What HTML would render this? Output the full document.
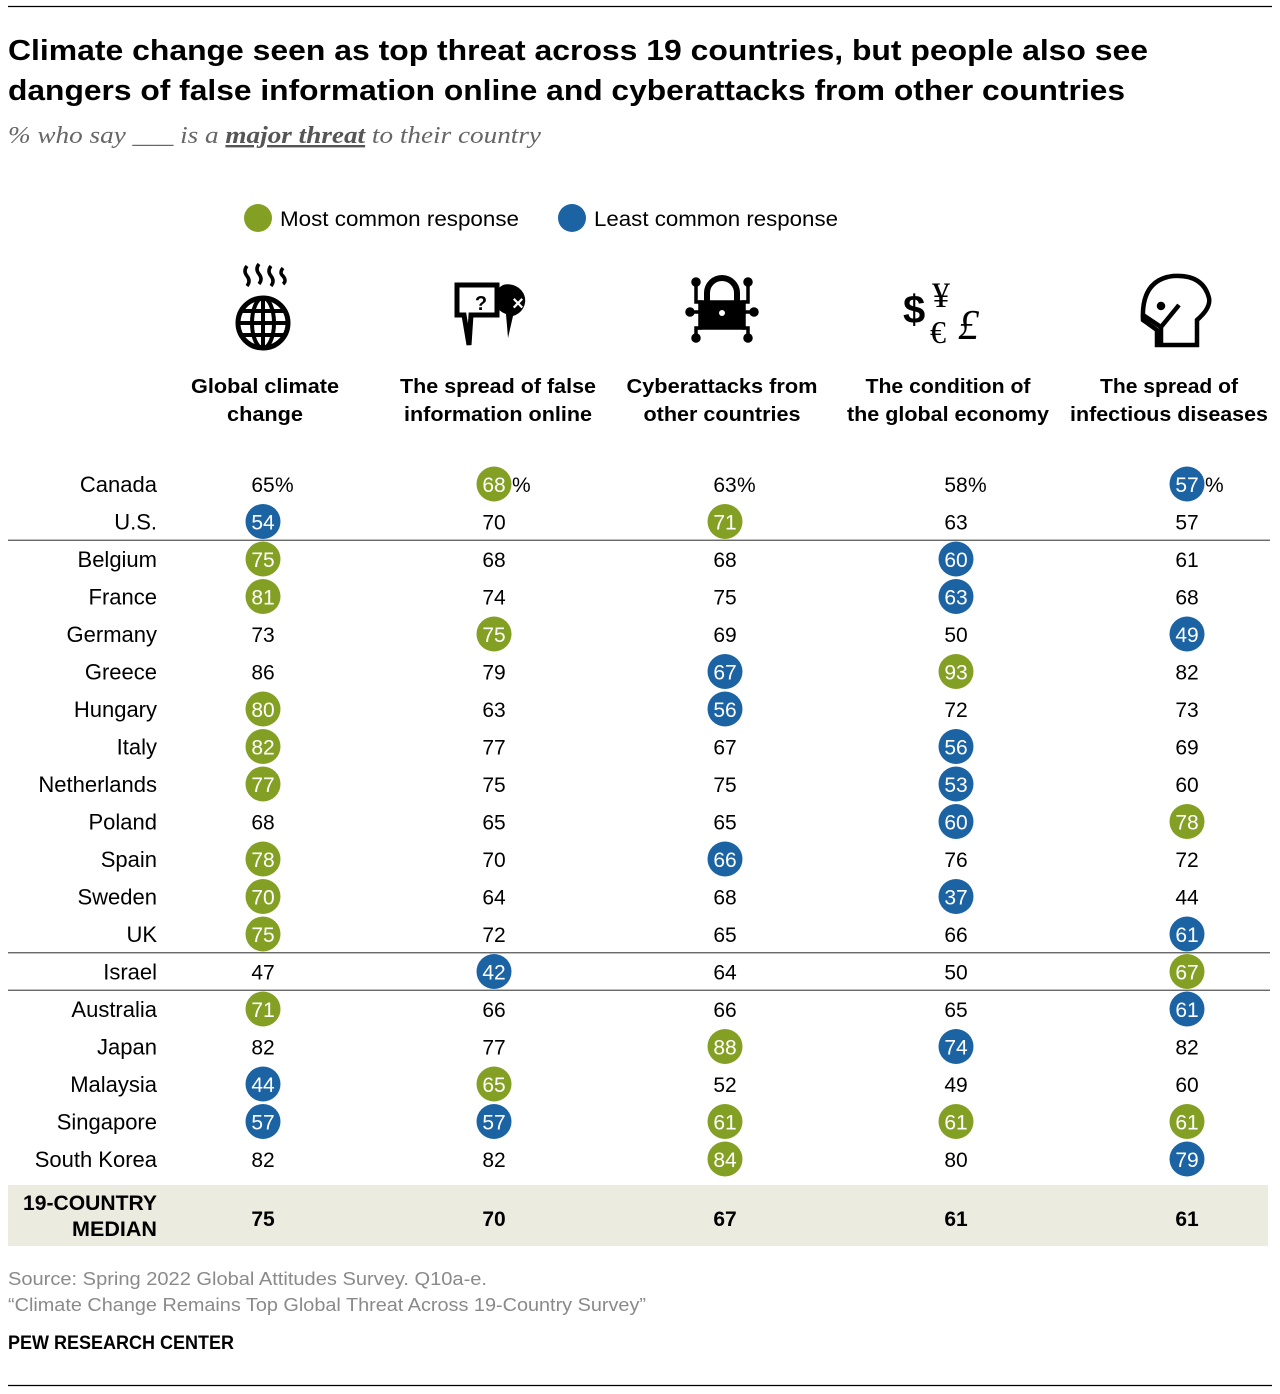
<!DOCTYPE html>
<html><head><meta charset="utf-8">
<style>
html,body{margin:0;padding:0;background:#fff;}
svg{display:block;font-family:"Liberation Sans",sans-serif;}
</style></head>
<body>
<svg id="chart" width="1280" height="1394" viewBox="0 0 1280 1394" xmlns="http://www.w3.org/2000/svg">
<line x1="8" y1="6.5" x2="1272" y2="6.5" stroke="#000" stroke-width="1.2"/>
<text x="8" y="60" font-size="29" font-weight="bold" textLength="1140" lengthAdjust="spacingAndGlyphs">Climate change seen as top threat across 19 countries, but people also see</text>
<text x="8" y="100" font-size="29" font-weight="bold" textLength="1117" lengthAdjust="spacingAndGlyphs">dangers of false information online and cyberattacks from other countries</text>
<text x="8" y="143" font-size="24" font-style="italic" fill="#666" font-family="Liberation Serif, serif" textLength="533" lengthAdjust="spacingAndGlyphs">% who say ___ is a <tspan font-weight="bold" text-decoration="underline" fill="#555">major threat</tspan> to their country</text>

<g>
<circle cx="258" cy="218" r="14" fill="#84a024"/>
<text x="280" y="226" font-size="21" textLength="239" lengthAdjust="spacingAndGlyphs">Most common response</text>
<circle cx="572" cy="218" r="14" fill="#1c63a3"/>
<text x="594" y="226" font-size="21" textLength="244" lengthAdjust="spacingAndGlyphs">Least common response</text>
</g>

<g transform="translate(263,310)">
<path d="M-16,-44 q-4,5 0,10 q4,5 0,10 M-4,-46 q-4,5 0,10 q4,5 0,10 M8,-44 q-4,5 0,10 q4,5 0,10 M20,-42 q-4,5 0,8 q4,5 0,8" stroke="#000" stroke-width="3.5" fill="none"/>
<circle cx="0" cy="13" r="25" fill="none" stroke="#000" stroke-width="5"/>
<ellipse cx="0" cy="13" rx="11" ry="25" fill="none" stroke="#000" stroke-width="4"/>
<line x1="0" y1="-12" x2="0" y2="38" stroke="#000" stroke-width="4"/>
<line x1="-25" y1="13" x2="25" y2="13" stroke="#000" stroke-width="4"/>
<line x1="-21" y1="1" x2="21" y2="1" stroke="#000" stroke-width="4"/>
<line x1="-21" y1="25" x2="21" y2="25" stroke="#000" stroke-width="4"/>
</g>
<g transform="translate(493,310)">
<path d="M-36,-25 h40 v30 h-26 l-2,30 l-5,-30 h-7 z" fill="#fff" stroke="#000" stroke-width="5"/>
<text x="-12" y="0" font-size="20" font-weight="bold" text-anchor="middle">?</text>
<path d="M10,-25 a17,16 0 1 1 10,31 l-5,22 l-2,-24 a17,16 0 0 1 -3,-29 z" fill="#000"/>
<text x="25" y="0" font-size="20" font-weight="bold" text-anchor="middle" fill="#fff">×</text>
</g>
<g transform="translate(722,310)" stroke="#000" stroke-width="3.5" fill="none">
<path d="M-15,-7 v-10 a15,15 0 0 1 30,0 v10" stroke-width="6"/>
<rect x="-22" y="-8" width="44" height="26" fill="#000"/>
<path d="M-26,-28 v20 h6 M26,-28 v20 h-6 M-26,28 v-10 h6 M26,28 v-10 h-6 M-32,2 h10 M32,2 h-10"/>
<circle cx="-26" cy="-28" r="3" fill="#000"/><circle cx="26" cy="-28" r="3" fill="#000"/>
<circle cx="-26" cy="28" r="3" fill="#000"/><circle cx="26" cy="28" r="3" fill="#000"/>
<circle cx="-32" cy="2" r="3" fill="#000"/><circle cx="32" cy="2" r="3" fill="#000"/>
<circle cx="0" cy="3" r="3" fill="#fff" stroke="none"/>
</g>
<g>
<text x="903" y="323" font-size="40" font-weight="bold">$</text>
<text x="932" y="307" font-size="36" font-family="Liberation Serif, serif">¥</text>
<text x="930" y="343" font-size="32" font-family="Liberation Serif, serif">€</text>
<text x="958" y="339" font-size="42" font-family="Liberation Serif, serif" font-style="italic">£</text>
</g>
<g transform="translate(1177,310)" fill="none" stroke="#000" stroke-width="4.5">
<path d="M-20,35 v-15 l-14,-10 q-2,-40 30,-44 q30,-2 36,22 q2,10 -12,22 v25 z"/>
<path d="M-34,5 l18,12 l18,-22 M-16,17 v18"/>
<circle cx="-16" cy="-4" r="2" fill="#000"/>
</g>

<g font-size="20" font-weight="bold" text-anchor="middle">
<text x="265" y="393" textLength="148" lengthAdjust="spacingAndGlyphs">Global climate</text>
<text x="265" y="421" textLength="76" lengthAdjust="spacingAndGlyphs">change</text>
<text x="498" y="393" textLength="196" lengthAdjust="spacingAndGlyphs">The spread of false</text>
<text x="498" y="421" textLength="188" lengthAdjust="spacingAndGlyphs">information online</text>
<text x="722" y="393" textLength="191" lengthAdjust="spacingAndGlyphs">Cyberattacks from</text>
<text x="722" y="421" textLength="157" lengthAdjust="spacingAndGlyphs">other countries</text>
<text x="948" y="393" textLength="165" lengthAdjust="spacingAndGlyphs">The condition of</text>
<text x="948" y="421" textLength="202" lengthAdjust="spacingAndGlyphs">the global economy</text>
<text x="1169" y="393" textLength="138" lengthAdjust="spacingAndGlyphs">The spread of</text>
<text x="1169" y="421" textLength="198" lengthAdjust="spacingAndGlyphs">infectious diseases</text>
</g>

<rect x="8" y="1185" width="1260" height="61" fill="#ecebdf"/>
<g id="rows"></g>

<text x="157" y="1210" font-size="21" font-weight="bold" text-anchor="end" textLength="134" lengthAdjust="spacingAndGlyphs">19-COUNTRY</text>
<text x="157" y="1236" font-size="21" font-weight="bold" text-anchor="end" textLength="85" lengthAdjust="spacingAndGlyphs">MEDIAN</text>
<g id="medians"></g>

<text x="8" y="1285" font-size="18" fill="#8a8a8a" textLength="479" lengthAdjust="spacingAndGlyphs">Source: Spring 2022 Global Attitudes Survey. Q10a-e.</text>
<text x="8" y="1311" font-size="18" fill="#8a8a8a" textLength="638" lengthAdjust="spacingAndGlyphs">“Climate Change Remains Top Global Threat Across 19-Country Survey”</text>
<text x="8" y="1349" font-size="19" font-weight="bold" textLength="226" lengthAdjust="spacingAndGlyphs">PEW RESEARCH CENTER</text>
<line x1="8" y1="1385.5" x2="1272" y2="1385.5" stroke="#000" stroke-width="1.2"/>
</svg>
<script>
const countries = ["Canada","U.S.","Belgium","France","Germany","Greece","Hungary","Italy","Netherlands","Poland","Spain","Sweden","UK","Israel","Australia","Japan","Malaysia","Singapore","South Korea"];
const climate = [65,54,75,81,73,86,80,82,77,68,78,70,75,47,71,82,44,57,82];
const falseInfo = [68,70,68,74,75,79,63,77,75,65,70,64,72,42,66,77,65,57,82];
const cyber = [63,71,68,75,69,67,56,67,75,65,66,68,65,64,66,88,52,61,84];
const economy = [58,63,60,63,50,93,72,56,53,60,76,37,66,50,65,74,49,61,80];
const disease = [57,57,61,68,49,82,73,69,60,78,72,44,61,67,61,82,60,61,79];
// highlight codes: G = most common, B = least common, "" = none
const hiClimate = ["","B","G","G","","","G","G","G","","G","G","G","","G","","B","B",""];
const hiFalse   = ["G","","","","G","","","","","","","","","B","","","G","B",""];
const hiCyber   = ["","G","","","","B","B","","","","B","","","","","G","","G","G"];
const hiEconomy = ["","","B","B","","G","","B","B","B","","B","","","","B","","G",""];
const hiDisease = ["B","","","","B","","","","","G","","","B","G","B","","","G","B"];
const medians = [75,70,67,61,61];
const separatorsAfter = [1,12,13];

const NS="http://www.w3.org/2000/svg";
const colX = i => 263 + i*231;
const rowY = r => 484 + r*37.5;
const series=[climate,falseInfo,cyber,economy,disease];
const his=[hiClimate,hiFalse,hiCyber,hiEconomy,hiDisease];
const colNames=["climate","false-info","cyber","economy","disease"];
const rows=document.getElementById("rows");
function mk(tag,attrs,parent){const e=document.createElementNS(NS,tag);for(const k in attrs)e.setAttribute(k,attrs[k]);parent.appendChild(e);return e;}

countries.forEach((c,r)=>{
  const y=rowY(r);
  const g=mk("g",{},rows);
  
  
  const lab=mk("text",{x:157,y:y+8,"font-size":22,"text-anchor":"end"},g);
  
  
  lab.textContent=c;
  series.forEach((s,i)=>{
    const x=colX(i);
    const h=his[i][r];
    if(h){
      const ci=mk("circle",{cx:x,cy:y,r:17.5,fill:h==="G"?"#84a024":"#1c63a3"},g);
      
      
    }
    const t=mk("text",{x:x,y:y+8,"font-size":21,"text-anchor":"middle",fill:h?"#fff":"#000"},g);
    
    
    t.textContent=s[r];
    if(r===0){
      const p=mk("text",{x:x+(h?18:12),y:y+8,"font-size":21},g);
      
      
      p.textContent="%";
    }
  });
});
separatorsAfter.forEach(r=>{
  const y=(rowY(r)+rowY(r+1))/2;
  const l=mk("line",{x1:8,x2:1270,y1:y,y2:y,stroke:"#555","stroke-width":1.3},rows);
  
  
});
const mg=document.getElementById("medians");
medians.forEach((m,i)=>{
  const t=mk("text",{x:colX(i),y:1226,"font-size":21,"font-weight":"bold","text-anchor":"middle"},mg);
  
  
  t.textContent=m;
});
</script>
</body></html>
